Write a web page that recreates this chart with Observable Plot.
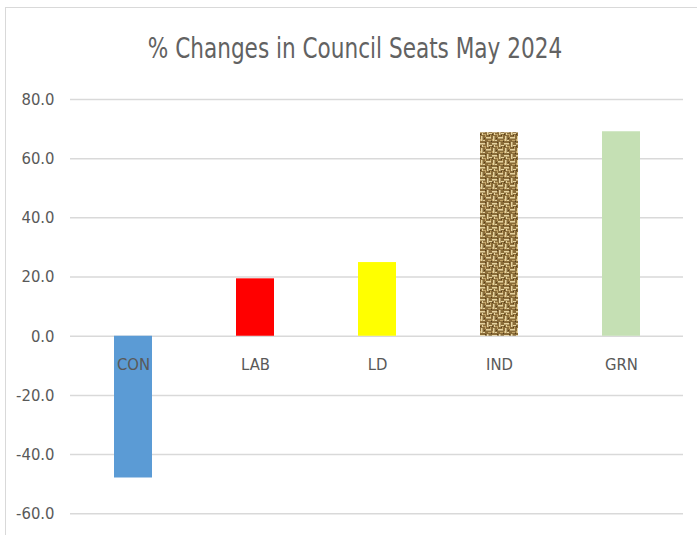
<!DOCTYPE html>
<html>
<head>
<meta charset="utf-8">
<script src="https://cdn.jsdelivr.net/npm/d3@7"></script>
<script src="https://cdn.jsdelivr.net/npm/@observablehq/plot@0.6"></script>
<style>
  html, body { margin: 0; padding: 0; background: #fff; }
  body { position: relative; width: 697px; height: 535px; overflow: hidden;
         font-family: "Liberation Sans Narrow", "DejaVu Sans Condensed", "Liberation Sans", sans-serif; }
  #frame { position: absolute; left: 5px; top: 7px; width: 720px; height: 560px;
           border-top: 1.5px solid #d9d9d9; border-left: 1.5px solid #d9d9d9; box-sizing: border-box; }
  #title { position: absolute; left: 5px; top: 30px; width: 700px; text-align: center;
           font-size: 24px; color: #626262; line-height: 30px; white-space: nowrap;
           transform: scaleY(1.2); transform-origin: 50% 0; }
  #chart { position: absolute; left: 0; top: 70px; }
</style>
</head>
<body>
<div id="frame"></div>
<div id="title">% Changes in Council Seats May 2024</div>
<div id="chart"></div>
<script>
// Data
const parties = ["CON", "LAB", "LD", "IND", "GRN"];
const changes = [-47.9, 19.4, 24.9, 68.8, 69.1];
const fills = ["#5b9bd5", "#ff0000", "#ffff00", "url(#burlap)", "#c5e0b4"];
const yTicks = [-60, -40, -20, 0, 20, 40, 60, 80];

const data = parties.map((p, i) => ({party: p, value: changes[i], fill: fills[i]}));

const plot = Plot.plot({
  width: 697,
  height: 465,
  marginTop: 29,
  marginBottom: 21.7,
  marginLeft: 70,
  marginRight: 14,
  style: {fontSize: "16.5px", fontFamily: '"Liberation Sans Narrow", "DejaVu Sans Condensed", "Liberation Sans", sans-serif', color: "#595959", background: "transparent"},
  x: {domain: parties, paddingInner: 0.69, paddingOuter: 0.345, axis: null},
  y: {domain: [-60, 80], axis: null},
  color: {type: "identity"},
  marks: [
    Plot.gridY(yTicks, {stroke: "#d9d9d9", strokeOpacity: 1, strokeWidth: 1.5}),
    Plot.axisY(yTicks, {tickSize: 0, tickPadding: 16, label: null, tickFormat: d => d.toFixed(1), fill: "#595959", fontSize: 16.5}),
    Plot.barY(data, {x: "party", y: "value", fill: "fill"}),
    Plot.text(parties, {x: d => d, y: 0, dy: 28, text: d => d, fill: "#595959", fontSize: 16.5, lineAnchor: "middle"})
  ]
});

// burlap-like texture for IND
const svg = d3.select(plot);
const defs = svg.insert("defs", ":first-child");
const pat = defs.append("pattern").attr("id", "burlap").attr("patternUnits", "userSpaceOnUse")
  .attr("width", 12).attr("height", 12);
pat.append("rect").attr("width", 12).attr("height", 12).attr("fill", "#8a6c38");
const light = [[0,1,5,1.5],[6,7,5,1.5],[7,0,1.5,5],[1,6,1.5,5],[9,3,3,1],[3,10,2,1],[2,3,1,2]];
light.forEach(([x,y,w,h]) => pat.append("rect").attr("x", x).attr("y", y).attr("width", w).attr("height", h).attr("fill", "#e6d3a0"));
const mid = [[3,4,3,1],[8,10,3,1],[5,5,1,2],[10,5,1,2],[0,9,1,2]];
mid.forEach(([x,y,w,h]) => pat.append("rect").attr("x", x).attr("y", y).attr("width", w).attr("height", h).attr("fill", "#c2a468"));
const dark = [[5,0,1,1],[0,4,1,1],[9,5,1,1],[4,8,1,1],[11,11,1,1]];
dark.forEach(([x,y,w,h]) => pat.append("rect").attr("x", x).attr("y", y).attr("width", w).attr("height", h).attr("fill", "#553e1c"));

document.getElementById("chart").appendChild(plot);
</script>
</body>
</html>
